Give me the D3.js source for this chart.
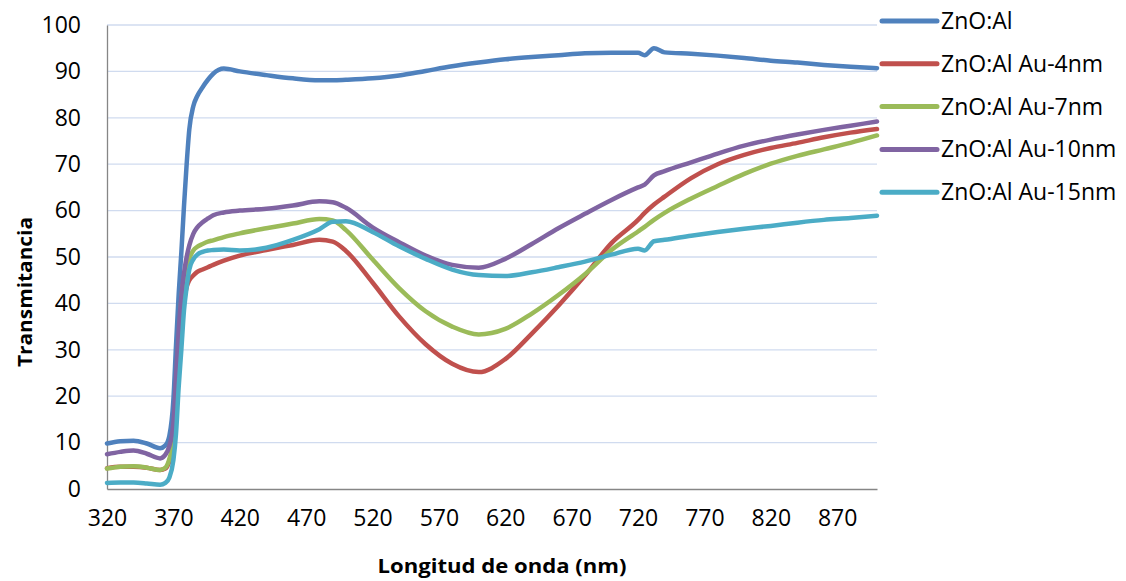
<!DOCTYPE html>
<html>
<head>
<meta charset="utf-8">
<script src="https://cdn.jsdelivr.net/npm/d3@7"></script>
<style>
  html, body { margin: 0; padding: 0; background: #ffffff; }
  svg { display: block; }
  text { font-family: "Open Sans", Lato, sans-serif; fill: #000; }
</style>
</head>
<body>
<svg id="chart" width="1126" height="581"></svg>
<script>
// Wavelength sampling (nm) shared by all spectra
const wavelength = [320, 330, 340, 350, 360, 364, 367, 370, 372, 374, 376, 378, 380, 382, 385, 388, 392, 396, 400, 408,
  420, 440, 460, 480, 490, 500, 520, 540, 560, 580, 600, 620, 640, 660, 680, 700, 720, 725, 732, 740,
  760, 780, 800, 820, 840, 860, 880, 900];

// Transmittance (%) per film
const znoAl = [9.8, 10.3, 10.4, 9.8, 8.8, 9.4, 11.5, 19.2, 31, 42, 51, 61, 70, 77.5, 82.5, 84.7, 86.6, 88.2, 89.5, 90.6,
  90.0, 89.2, 88.5, 88.1, 88.1, 88.2, 88.5, 89.1, 90.1, 91.1, 91.9, 92.6, 93.1, 93.5, 93.9, 94.0, 94.0, 93.5, 95.0, 94.1,
  93.8, 93.4, 92.9, 92.3, 91.9, 91.4, 91.0, 90.7];
const au4 = [4.5, 4.8, 4.8, 4.6, 4.1, 4.4, 6, 10, 16, 25, 33.6, 40.5, 43.5, 45, 46, 46.8, 47.3, 47.8, 48.3, 49.2,
  50.3, 51.5, 52.6, 53.7, 53.3, 51.3, 44.5, 37.2, 31.2, 27.0, 25.2, 28.0, 33.5, 39.5, 46.0, 53.0, 58.0, 59.5, 61.3, 63.0,
  67.0, 70.0, 72.0, 73.5, 74.6, 75.8, 76.8, 77.6];
const au7 = [4.4, 4.8, 4.9, 4.6, 4.1, 4.6, 6.5, 10.6, 20, 30.5, 40.7, 45.5, 47.9, 49.7, 51.4, 52.2, 52.8, 53.3, 53.6, 54.3,
  55.1, 56.2, 57.2, 58.2, 57.9, 55.8, 49.5, 43.3, 38.3, 35.0, 33.3, 34.5, 37.8, 41.8, 46.3, 51.5, 55.5, 56.5, 58.0, 59.5,
  62.6, 65.3, 67.9, 70.1, 71.8, 73.2, 74.6, 76.2];
const au10 = [7.5, 8.0, 8.3, 7.6, 6.6, 7.4, 9.3, 14, 24, 34, 41.5, 46.5, 50, 52.5, 55, 56.4, 57.5, 58.3, 59, 59.6,
  60.0, 60.4, 61.1, 62.0, 61.8, 60.6, 56.4, 53.2, 50.3, 48.3, 47.7, 49.6, 52.8, 56.2, 59.3, 62.3, 65.0, 65.6, 67.6, 68.5,
  70.4, 72.3, 74.0, 75.3, 76.4, 77.4, 78.3, 79.2];
const au15 = [1.3, 1.4, 1.4, 1.2, 0.9, 1.3, 2.5, 6.2, 12, 22, 30, 38.5, 43.5, 47.3, 49.5, 50.5, 51.1, 51.4, 51.5, 51.6,
  51.4, 52.0, 53.7, 56.0, 57.6, 57.7, 55.4, 52.3, 49.6, 47.3, 46.1, 45.9, 46.7, 47.8, 49.0, 50.5, 51.8, 51.4, 53.4, 53.7,
  54.6, 55.4, 56.1, 56.7, 57.4, 58.0, 58.4, 58.9];

const seriesNames = ["ZnO:Al", "ZnO:Al Au-4nm", "ZnO:Al Au-7nm", "ZnO:Al Au-10nm", "ZnO:Al Au-15nm"];
const seriesColors = ["#4f81bd", "#c0504d", "#9bbb59", "#8064a2", "#4bacc6"];
const seriesValues = [znoAl, au4, au7, au10, au15];

const xTicks = [320, 370, 420, 470, 520, 570, 620, 670, 720, 770, 820, 870];
const yTicks = [0, 10, 20, 30, 40, 50, 60, 70, 80, 90, 100];

const xTitle = "Longitud de onda (nm)";
const yTitle = "Transmitancia";

// Layout
const plot = { left: 107, right: 877, top: 25, bottom: 489 };

const svg = d3.select("#chart");

const x = d3.scaleLinear().domain([320, 900]).range([plot.left, plot.right]);
const y = d3.scaleLinear().domain([0, 100]).range([plot.bottom, plot.top]);

// Horizontal gridlines
svg.append("g")
  .selectAll("line")
  .data(yTicks.filter(d => d > 0))
  .join("line")
  .attr("x1", plot.left).attr("x2", plot.right)
  .attr("y1", d => y(d)).attr("y2", d => y(d))
  .attr("stroke", "#d0dbef").attr("stroke-width", 1.3);

// Y axis
const yAxis = svg.append("g")
  .attr("transform", `translate(${plot.left},0)`)
  .call(d3.axisLeft(y).tickValues(yTicks).tickSize(0).tickPadding(26));
yAxis.select(".domain").attr("stroke", "#868686").attr("stroke-width", 1.3);
yAxis.selectAll("text").style("font-size", "23px").style("font-family", "'Open Sans', sans-serif").attr("fill", "#000");

// X axis
const xAxis = svg.append("g")
  .attr("transform", `translate(0,${plot.bottom})`)
  .call(d3.axisBottom(x).tickValues(xTicks).tickSize(0).tickPadding(21).tickFormat(d3.format("d")));
xAxis.select(".domain").attr("stroke", "#868686").attr("stroke-width", 1.3);
xAxis.selectAll("text").style("font-size", "23px").style("font-family", "'Open Sans', sans-serif").attr("fill", "#000");

// Spectra
const line = d3.line()
  .x((d, i) => x(wavelength[i]))
  .y(d => y(d))
  .curve(d3.curveMonotoneX);

svg.append("g")
  .selectAll("path")
  .data(seriesValues)
  .join("path")
  .attr("d", d => line(d))
  .attr("fill", "none")
  .attr("stroke", (d, i) => seriesColors[i])
  .attr("stroke-width", 4.5)
  .attr("stroke-linejoin", "round")
  .attr("stroke-linecap", "round");

// Axis titles
svg.append("text")
  .attr("x", 502).attr("y", 573)
  .attr("text-anchor", "middle")
  .attr("textLength", 249).attr("lengthAdjust", "spacingAndGlyphs")
  .style("font-size", "19.5px").style("font-weight", "bold")
  .text(xTitle);

svg.append("text")
  .attr("transform", "translate(32,292) rotate(-90)")
  .attr("text-anchor", "middle")
  .attr("textLength", 150).attr("lengthAdjust", "spacingAndGlyphs")
  .style("font-size", "19.5px").style("font-weight", "bold")
  .text(yTitle);

// Legend
const legend = svg.append("g")
  .selectAll("g")
  .data(seriesNames)
  .join("g")
  .attr("transform", (d, i) => `translate(882,${21 + i * 42.8})`);

legend.append("line")
  .attr("x1", 0).attr("x2", 55)
  .attr("y1", 0).attr("y2", 0)
  .attr("stroke", (d, i) => seriesColors[i])
  .attr("stroke-width", 5)
  .attr("stroke-linecap", "round");

legend.append("text")
  .attr("x", 59).attr("y", 0)
  .attr("dy", "0.35em")
  .style("font-size", "23px")
  .text(d => d);
</script>
</body>
</html>
